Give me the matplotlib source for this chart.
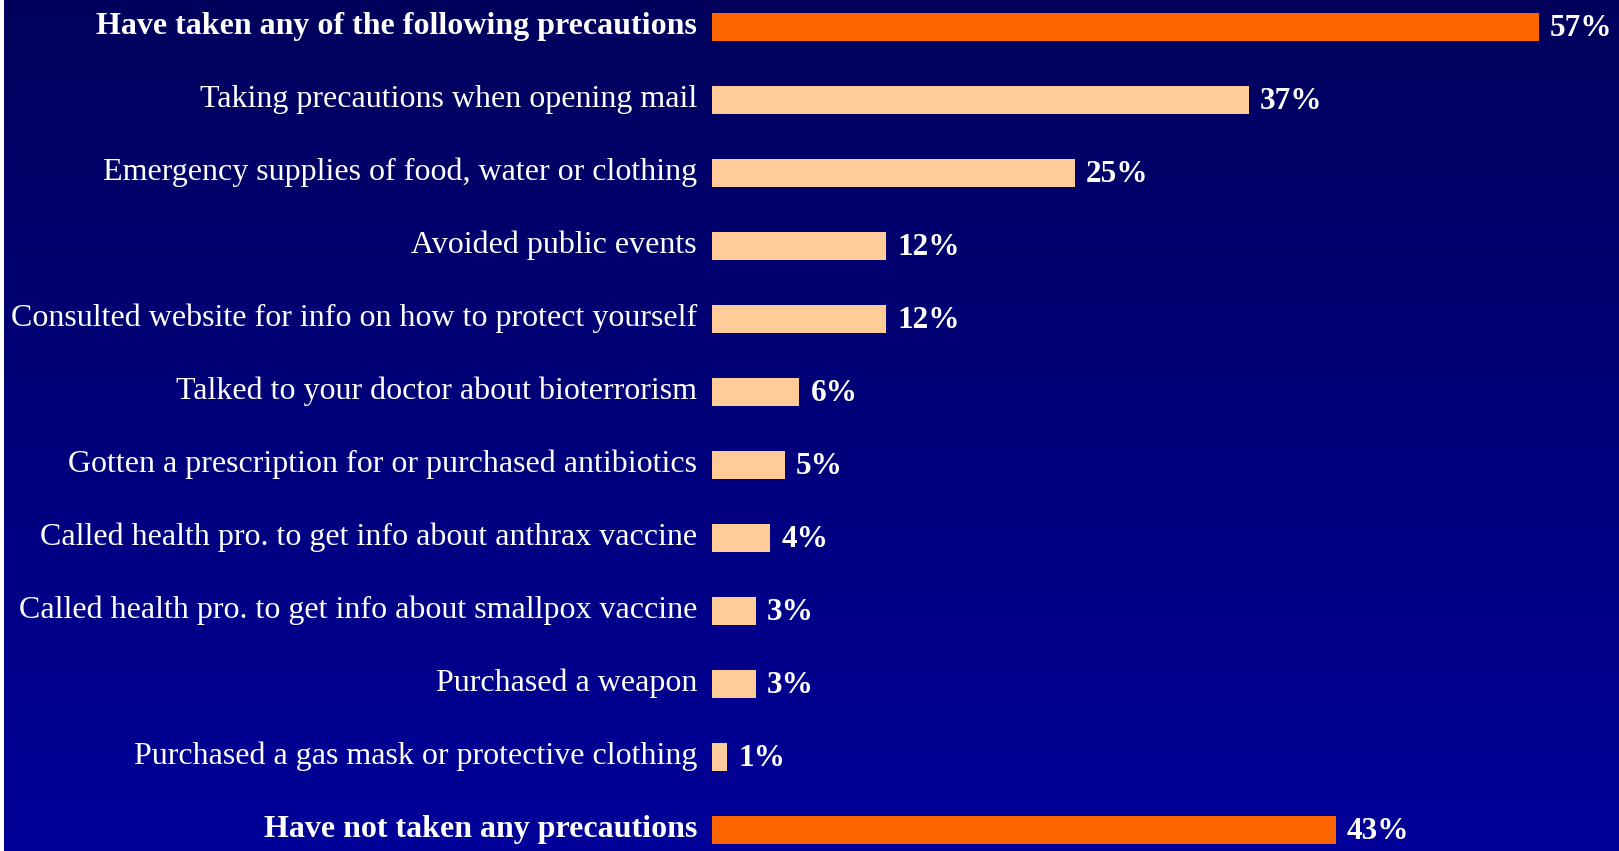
import numpy as np
from matplotlib import pyplot as plt

# Daten
labels = ["Have taken any of the following precautions",
          "Taking precautions when opening mail",
          "Emergency supplies of food, water or clothing",
          "Avoided public events",
          "Consulted website for info on how to protect yourself",
          "Talked to your doctor about bioterrorism",
          "Gotten a prescription for or purchased antibiotics",
          "Called health pro. to get info about anthrax vaccine",
          "Called health pro. to get info about smallpox vaccine",
          "Purchased a weapon",
          "Purchased a gas mask or protective clothing",
          "Have not taken any precautions"]
values = [57, 37, 25, 12, 12, 6, 5, 4, 3, 3, 1, 43]
summary = [True] + [False] * 10 + [True]

W, H = 1619, 851
fig = plt.figure(figsize=(W / 100, H / 100), dpi=100, facecolor="white")

# tlo - gradient od ciemnego granatu do niebieskiego
bg = fig.add_axes([4 / W, 0, 1 - 4 / W, 1])
grad = np.linspace(0, 1, 256).reshape(-1, 1)
top = np.array([0, 0, 0x5C]) / 255
bottom = np.array([0, 0, 0x99]) / 255
img = top + (bottom - top) * grad[..., None]
bg.imshow(img, aspect="auto", extent=[0, 1, 0, 1], origin="upper")
bg.axis("off")

ax = fig.add_axes([712 / W, 0, 1 - 712 / W, 1])
ax.patch.set_alpha(0)
y = np.arange(len(values))
colors = ["#FF6600" if s else "#FFCC99" for s in summary]
ax.barh(y, values, height=0.37, color=colors)
ax.set_xlim(0, (W - 712) / 14.5)
ax.set_ylim(11 + 21 / 73, -27 / 73)
ax.set_xticks([])
ax.set_yticks([])
for sp in ax.spines.values():
    sp.set_visible(False)

# opisy kategorii
for yi, lab, s in zip(y, labels, summary):
    ax.annotate(lab, xy=(0, yi), xycoords=ax.get_yaxis_transform(),
                xytext=(-15, 1), textcoords="offset pixels",
                ha="right", va="center", color="white", fontsize=23,
                fontweight="bold" if s else "normal",
                family="Liberation Serif", annotation_clip=False)

for yi, v in zip(y, values):
    ax.text(v + 0.8, yi + 0.02, f"{v}%", va="center", ha="left", color="white",
            fontsize=22.5, fontweight="bold", family="Liberation Serif")

fig.savefig("out.png", dpi=100, facecolor="white")
